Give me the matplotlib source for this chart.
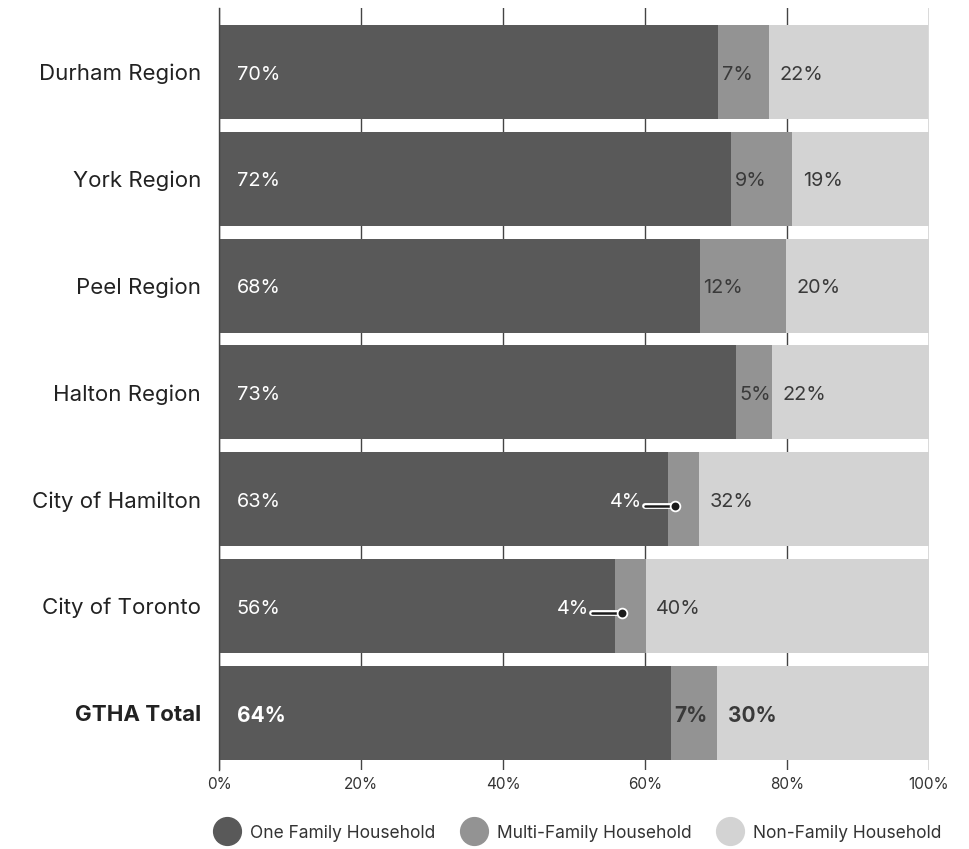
import matplotlib.pyplot as plt
import matplotlib.patheffects as pe
from matplotlib.lines import Line2D

plt.rcParams['font.family'] = ['Inter', 'DejaVu Sans']

categories = ["Durham Region", "York Region", "Peel Region", "Halton Region",
              "City of Hamilton", "City of Toronto", "GTHA Total"]
one_family = [70.3, 72.1, 67.7, 72.8, 63.2, 55.8, 63.6]
multi_family = [7.1, 8.6, 12.2, 5.1, 4.4, 4.3, 6.6]
non_family = [22.4, 19.3, 20.1, 22.1, 32.4, 39.9, 29.8]
# rows where the multi-family share is too narrow to hold its label
callout_rows = ["City of Hamilton", "City of Toronto"]
total_row = "GTHA Total"

series_names = ["One Family Household", "Multi-Family Household", "Non-Family Household"]
colors = ["#595959", "#939393", "#d3d3d3"]
text_dark = "#3a3a3a"

fig = plt.figure(figsize=(9.69, 8.49), dpi=100)
ax = fig.add_axes([219 / 969, 1 - 770 / 849, 710 / 969, 762 / 849])

y = list(range(len(categories)))
h = 0.88
ax.barh(y, one_family, height=h, color=colors[0], zorder=2)
ax.barh(y, multi_family, left=one_family, height=h, color=colors[1], zorder=2)
mid_end = [a + b for a, b in zip(one_family, multi_family)]
ax.barh(y, non_family, left=mid_end, height=h, color=colors[2], zorder=2)

for i, cat in enumerate(categories):
    weight = "bold" if cat == total_row else "normal"
    size = 15 if cat == total_row else 14.3
    ty = i + 0.025
    ax.text(2.5, ty, f"{one_family[i]:.0f}%", color="white", va="center", ha="left",
            fontsize=size, fontweight=weight, zorder=4)
    if cat in callout_rows:
        dot_x = one_family[i] + 1.0
        line_y = i + 0.06
        ax.plot([dot_x - 4.2, dot_x], [line_y, line_y], color="#1a1a1a", lw=1.8,
                solid_capstyle="round", zorder=5,
                path_effects=[pe.Stroke(linewidth=4.2, foreground="white"), pe.Normal()])
        ax.plot([dot_x], [line_y], marker="o", ms=7, color="#1a1a1a", mec="white",
                mew=1.3, zorder=6)
        ax.text(dot_x - 4.6, ty, f"{multi_family[i]:.0f}%", color="white", va="center",
                ha="right", fontsize=size, zorder=4)
    else:
        ax.text(one_family[i] + 0.5, ty, f"{multi_family[i]:.0f}%", color=text_dark,
                va="center", ha="left", fontsize=size, fontweight=weight, zorder=4)
    ax.text(mid_end[i] + 1.5, ty, f"{non_family[i]:.0f}%", color=text_dark, va="center",
            ha="left", fontsize=size, fontweight=weight, zorder=4)

ax.set_xlim(0, 100)
ax.set_ylim(len(categories) - 1 + 0.533, -0.598)
ax.set_xticks([0, 20, 40, 60, 80, 100])
ax.set_xticklabels([f"{t}%" for t in [0, 20, 40, 60, 80, 100]], fontsize=11, color="#333333")
ax.set_yticks(y)
ax.set_yticklabels(categories, fontsize=16, color="#222222")
for lbl in ax.get_yticklabels():
    if lbl.get_text() == total_row:
        lbl.set_fontweight("bold")
ax.tick_params(axis="both", length=0)
ax.tick_params(axis="y", pad=13)
ax.tick_params(axis="x", pad=5)
ax.xaxis.grid(True, color="#444444", lw=1.0, zorder=0)
ax.set_axisbelow(True)
for side in ["top", "right", "bottom"]:
    ax.spines[side].set_visible(False)
ax.spines["left"].set_color("#444444")
ax.spines["left"].set_linewidth(1.0)

handles = [Line2D([], [], marker="o", ls="none", ms=20, color=c, mec=c) for c in colors]
fig.legend(handles, series_names, loc="center", bbox_to_anchor=(0.594, 1 - 833 / 849),
           ncol=3, frameon=False, fontsize=12.5, handletextpad=0.35, columnspacing=1.2,
           labelcolor="#333333")

fig.savefig("out.png", dpi=100)
